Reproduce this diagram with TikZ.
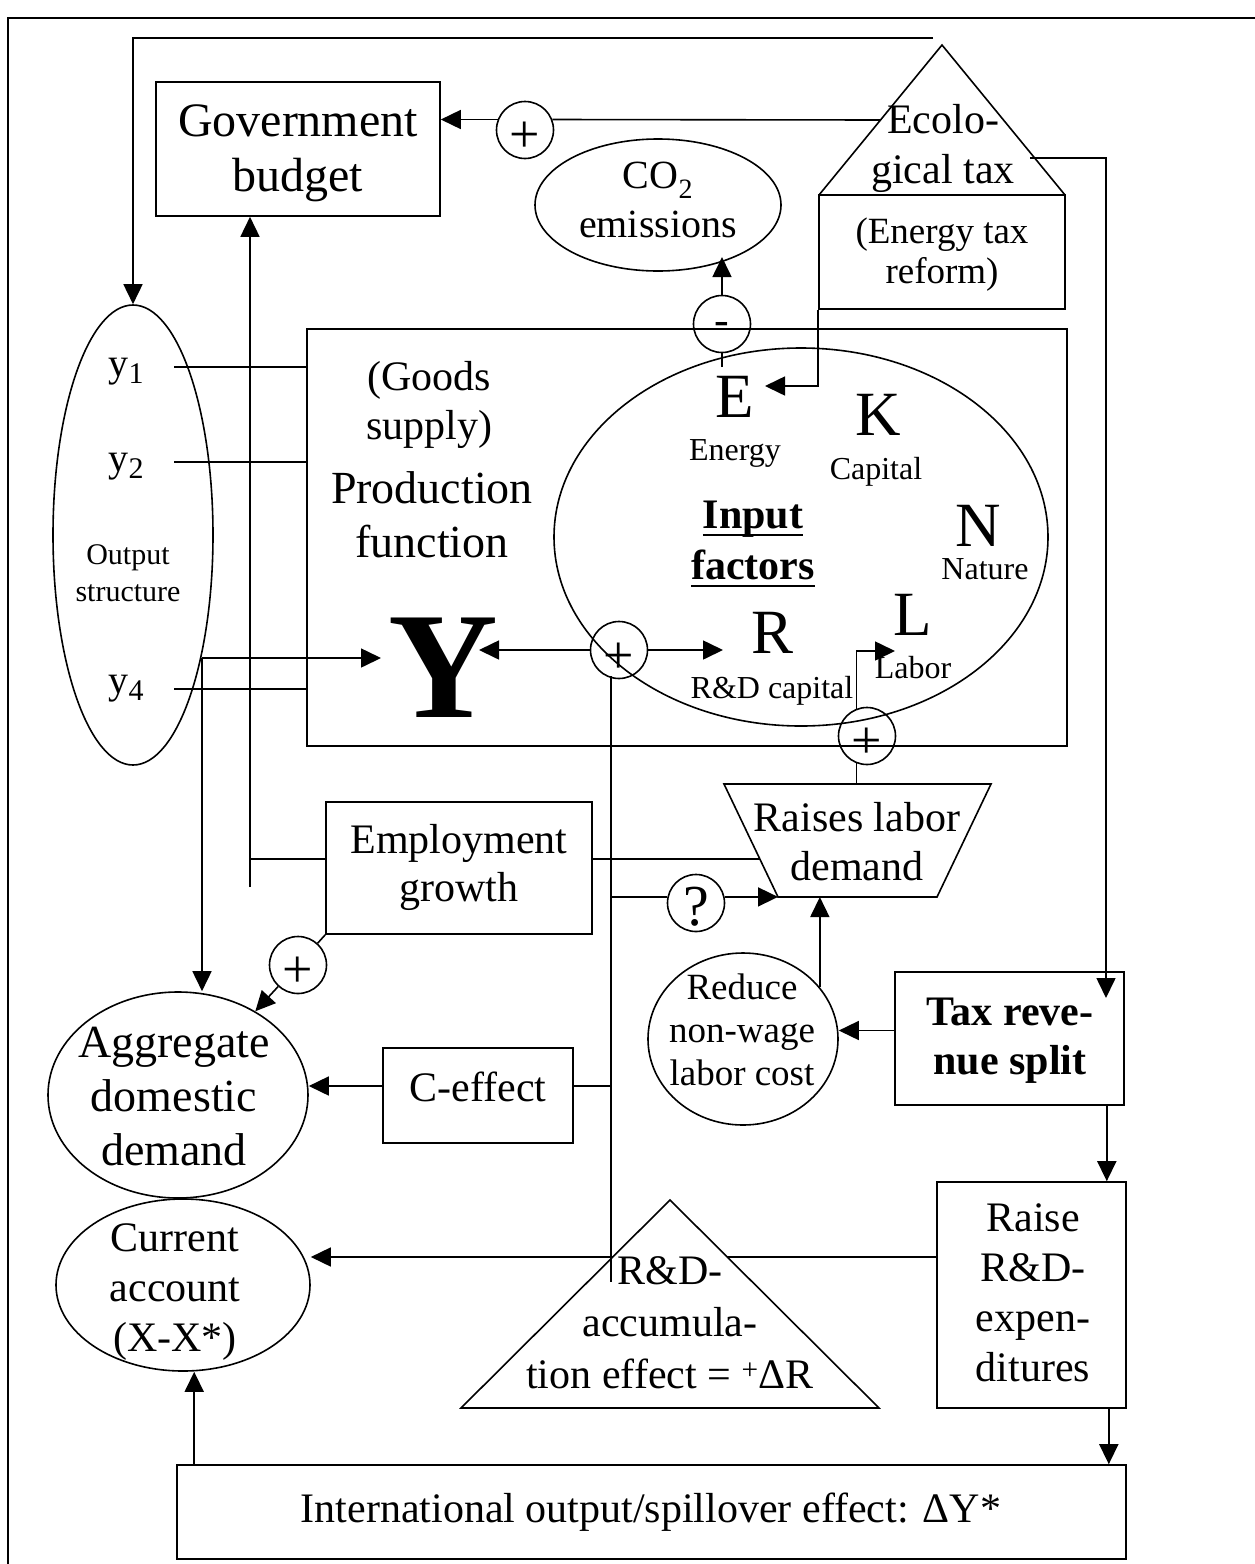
\documentclass[tikz,border=0pt]{standalone}
\usepackage{fontspec}
\setmainfont{Liberation Serif}
\usetikzlibrary{shapes.geometric,arrows.meta,calc}
\newcommand\fsz[2]{\fontsize{#1pt}{#2pt}\selectfont}
\newcommand\undl[1]{\setbox0\hbox{#1}\rlap{\rule[-8pt]{\wd0}{2pt}}\box0}
\begin{document}
\begin{tikzpicture}[x=1pt,y=-1pt,line width=1.6pt,
  arr/.style={-{Triangle[length=20pt,width=19pt]}},
  box/.style={draw,rectangle,inner sep=0pt},
  ell/.style={draw,ellipse,inner sep=0pt},
  sgn/.style={draw,circle,minimum size=57pt,inner sep=0pt},
  sgntxt/.style={inner sep=0pt,font=\fsz{54}{54}},
  txt/.style={align=center,inner sep=0pt},
  fac/.style={anchor=base,inner sep=0pt,font=\fsz{63}{63}},
  faclab/.style={anchor=base,inner sep=0pt,font=\fsz{32}{32}},
]
\useasboundingbox (0,0) rectangle (1255,1564);
% frame
\draw (8,1564) -- (8,18) -- (1255,18);

% ---------------- shapes
\node[box,minimum width=284pt,minimum height=134pt] (gov) at (298,149) {};
\node[sgn] (p1) at (525,130) {};
\node[sgntxt] (p1t) at ([yshift=-7]p1.center) {+};
\node[ell,minimum width=246pt,minimum height=132pt] (co2) at (658,205) {};
\coordinate (ecoA) at (942,45);
\coordinate (ecoB) at (819,195);
\coordinate (ecoC) at (1065,195);
\draw (ecoB) -- (ecoA) -- (ecoC);
\node[box,minimum width=246pt,minimum height=114pt] (ebox) at (942,252) {};
\node[sgn] (mc) at (722,324) {};
\node[inner sep=0pt,font=\fsz{44}{44}] (mct) at ([yshift=-4]mc.center) {-};
\node[ell,minimum width=160pt,minimum height=460pt] (outs) at (133,535) {};
\node[box,minimum width=760pt,minimum height=417pt] (prod) at (687,537.5) {};
\node[ell,minimum width=494pt,minimum height=378pt] (inp) at (801,537) {};
\node[sgn] (yp) at (619,650) {};
\node[sgntxt] (ypt) at ([yshift=-8]yp.center) {+};
\node[sgn] (lp) at (867,736) {};
\node[sgntxt] (lpt) at ([yshift=-7]lp.center) {+};
\node[box,minimum width=266pt,minimum height=132pt] (emp) at (459,868) {};
\coordinate (tTL) at (724,784);
\coordinate (tTR) at (991,784);
\coordinate (tBR) at (937,897);
\coordinate (tBL) at (778,897);
\draw (tTL) -- (tTR) -- (tBR) -- (tBL) -- cycle;
\node[sgn] (q) at (696,903) {};
\node[inner sep=0pt,font=\fsz{58}{58}] (qt) at ([yshift=-4]q.center) {?};
\node[sgn] (pe) at (298,965) {};
\node[sgntxt] (pet) at ([yshift=-7]pe.center) {+};
\node[ell,minimum width=260pt,minimum height=206pt] (agg) at (178,1095) {};
\node[box,minimum width=190pt,minimum height=95pt] (ceff) at (478,1095.5) {};
\node[ell,minimum width=190pt,minimum height=172pt] (red) at (743,1039) {};
\node[box,minimum width=229pt,minimum height=133pt] (tax) at (1009.5,1038.5) {};
\node[ell,minimum width=254pt,minimum height=172pt] (cur) at (183,1285) {};
\coordinate (rdA) at (670,1200);
\coordinate (rdB) at (461,1408);
\coordinate (rdC) at (879,1408);
\draw (rdA) -- (rdB) -- (rdC) -- cycle;
\node[box,minimum width=189pt,minimum height=226pt] (raise) at (1031.5,1295) {};
\node[box,minimum width=949pt,minimum height=94pt] (intl) at (651.5,1512) {};

% ---------------- texts
\node[txt,font=\fsz{48}{55}] (govt) at (298,153) {Government\\budget};
\node[txt,font=\fsz{42}{50}] (ecot) at (943,148) {Ecolo-\\gical tax};
\node[txt,font=\fsz{37}{40}] (ebt) at (942,255) {(Energy tax\\reform)};
\node[txt,font=\fsz{40}{49}] (co2t) at (658,200) {CO\textsubscript{2}\\emissions};
\node[anchor=base,inner sep=0pt,font=\fsz{40}{40}] (y1t) at (126,376) {y{\fsz{30}{30}\raisebox{-7pt}{1}}};
\node[anchor=base,inner sep=0pt,font=\fsz{40}{40}] (y2t) at (126,471) {y{\fsz{30}{30}\raisebox{-7pt}{2}}};
\node[anchor=base,inner sep=0pt,font=\fsz{40}{40}] (y4t) at (126,693) {y{\fsz{30}{30}\raisebox{-7pt}{4}}};
\node[txt,font=\fsz{30}{37}] (outt) at (128,573) {Output\\structure};
\node[txt,font=\fsz{42}{49}] (goodst) at (429,405) {(Goods\\supply)};
\node[txt,font=\fsz{46}{54}] (prodt) at (432,515) {Production\\function};
\node[txt,font=\fsz{42}{51}\bfseries] (inpt) at (753,544) {\undl{Input}\\\undl{factors}};
\node[fac] (Et) at (735,417) {E};
\node[fac] (Kt) at (878,435) {K};
\node[fac] (Nt) at (978,546) {N};
\node[fac] (Lt) at (913,635) {L};
\node[fac] (Rt) at (773,653) {R};
\node[faclab] (Elab) at (735,460) {Energy};
\node[faclab] (Klab) at (876,479) {Capital};
\node[faclab] (Nlab) at (985,579) {Nature};
\node[faclab] (Llab) at (913,678) {Labor};
\node[faclab] (Rlab) at (772,698) {R\&D capital};
\node[anchor=base,inner sep=0pt,font=\fsz{152}{152}\bfseries] (Yt) at (443,717) {Y};
\node[txt,font=\fsz{42}{48}] (empt) at (459,867) {Employment\\growth};
\node[txt,font=\fsz{42}{49}] (raiset) at (857,842) {Raises labor\\demand};
\node[txt,font=\fsz{37}{43}] (redt) at (742,1030) {Reduce\\non-wage\\labor cost};
\node[txt,font=\fsz{42}{49}\bfseries] (taxt) at (1010,1041) {Tax reve-\\nue split};
\node[txt,font=\fsz{42}{48}] (ceft) at (478,1087) {C-effect};
\node[txt,font=\fsz{46}{54}] (aggt) at (174,1097) {Aggregate\\domestic\\demand};
\node[txt,font=\fsz{42}{50}] (curt) at (175,1292) {Current\\account\\(X-X*)};
\node[txt,font=\fsz{42}{52}] (rdt) at (670,1323) {R\&D-\\accumula-\\tion effect = \textsuperscript{+}ΔR};
\node[txt,font=\fsz{42}{50}] (raiset2) at (1033,1293) {Raise\\R\&D-\\expen-\\ditures};
\node[txt,font=\fsz{42}{48}] (intlt) at (651,1512) {International output/spillover effect: ΔY*};

% ---------------- connectors
\coordinate (ecotop) at (933,38);
\draw[arr] (ecotop) -| (outs.north);
\coordinate (ecoL) at ($(ecoA)!0.5!(ecoB)$);
\draw (ecoL) -- (p1.21);
\draw[arr] (p1.159) -- (p1.159 -| gov.east);
\coordinate (ecoR) at (1030,158);
\coordinate (taxin) at (1106,998);
\draw[arr] (ecoR) -| (taxin);
\draw[arr] ([xshift=-18]tax.south east) -- ([xshift=-18]tax.south east |- raise.north);
\draw[arr] ([xshift=-18]raise.south east) -- ([xshift=-18]raise.south east |- intl.north);
\draw[arr] ([xshift=18]intl.north west) -- ([xshift=18]intl.north west |- cur.south);
\coordinate (rdR) at ($(rdA)!0.274!(rdC)$);
\coordinate (rdL) at ($(rdA)!0.274!(rdB)$);
\draw (raise.west |- rdR) -- (rdR);
\draw[arr] (rdL) -- (rdL -| cur.east);
\coordinate (vtop) at (611,676);
\coordinate (vbot) at (611,1282);
\draw (vtop) -- (vbot);
\draw (vtop |- q.168) -- (q.168);
\draw[arr] (q.12) -- (q.12 -| tBL);
\draw ([yshift=9.5]ceff.east) -- ([yshift=9.5]ceff.east -| vbot);
\draw[arr] ([yshift=9.5]ceff.west) -- ([yshift=9.5]ceff.west -| agg.east);
\coordinate (Yr) at (479,650);
\draw[arr] (yp.west) -- (Yr);
\coordinate (Rl) at (723,650);
\draw[arr] (yp.east) -- (Rl);
\coordinate (oy) at (202,658);
\coordinate (Yl) at (381,658);
\draw[arr] (oy) -- (Yl);
\draw[arr] (oy) -- (oy |- agg.north);
\coordinate (l1) at (174,367);
\coordinate (l2) at (174,462);
\coordinate (l4) at (174,689);
\draw (l1) -- (l1 -| prod.west);
\draw (l2) -- (l2 -| prod.west);
\draw (l4) -- (l4 -| prod.west);
\coordinate (gv) at (250,887);
\draw[arr] (gv) -- (gv |- gov.south);
\draw ([yshift=9]emp.west) -- ([yshift=9]emp.west -| gv);
\coordinate (tEL) at ($(tTL)!0.664!(tBL)$);
\draw ([yshift=9]emp.east) -- (tEL);
\draw (emp.south west) -- (pe);
\draw[arr] (pe) -- (agg);
\draw[arr] (red.34.4) -- (red.34.4 |- tBL);
\draw[arr] ([yshift=8]tax.west) -- ([yshift=8]tax.west -| red.east);
\coordinate (Ltip) at (895,651);
\draw[arr] (lp.111) |- (Ltip);
\draw (lp.249) -- (lp.249 |- tTL);
\coordinate (Etop) at (722,367);
\draw (Etop) -- (mc.south);
\coordinate (co2tip) at (722,257);
\draw[arr] (mc.north) -- (co2tip);
\coordinate (Earr) at (765,386);
\draw[arr] (ebox.south west) |- (Earr);
\end{tikzpicture}
\end{document}
